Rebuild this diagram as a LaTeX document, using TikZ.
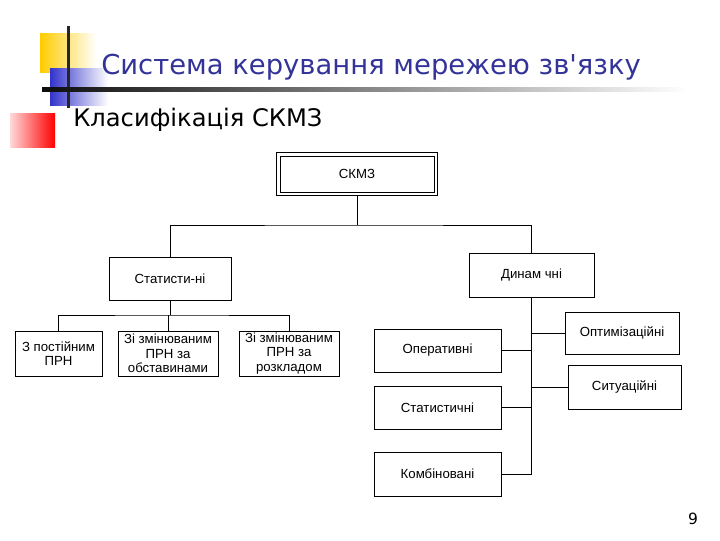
\documentclass[tikz,border=0pt]{standalone}
\usepackage{fontspec}
\setmainfont{DejaVu Sans}
\newfontfamily\slidefont{DejaVu Sans}
\newfontfamily\boxfont{Liberation Sans}
\usetikzlibrary{positioning}
\definecolor{titleBlue}{HTML}{333399}
\definecolor{decoYellow}{HTML}{FFCC00}
\definecolor{decoBlue}{HTML}{3333CC}
\definecolor{decoRed}{HTML}{FF0000}

\begin{document}
\begin{tikzpicture}[
    x=0.025cm, y=-0.025cm,
    box/.style={draw, rectangle, line width=0.6pt, align=center, inner sep=1pt,
                font=\boxfont\fontsize{9.4}{10.2}\selectfont},
    link/.style={line width=0.6pt}
]
    \useasboundingbox (0,0) rectangle (720,540);

    % decoration of the slide
    \shade[left color=decoYellow, right color=white] (40,33) rectangle (96,72);
    \shade[left color=decoBlue, right color=white] (50,68) rectangle (108,105);
    \shade[left color=decoRed!15, right color=decoRed] (10,113) rectangle (55,147);
    \fill[black!85] (67,26) rectangle (69.5,108);
    \shade[left color=black!95, right color=white] (42,87.5) rectangle (688,91.5);

    \node[anchor=base west, inner sep=0pt, text=titleBlue, font=\slidefont\fontsize{19.5}{22}\selectfont] (title) at (101,74) {Система керування мережею зв'язку};
    \node[anchor=base west, inner sep=0pt, font=\slidefont\fontsize{17.2}{20}\selectfont] (subtitle) at (73,126) {Класифікація СКМЗ};

    % tree
    \node[box, minimum width=3.85cm, minimum height=0.9cm] (skmz) at (357,174) {СКМЗ};
    \draw[line width=0.6pt] ([shift={(-2.3pt,2.3pt)}]skmz.north west) rectangle ([shift={(2.3pt,-2.3pt)}]skmz.south east);
    \node[box, minimum width=3.05cm, minimum height=1.075cm] (stat) at (170,278.5) {Статисти-ні};
    \node[box, minimum width=3.125cm, minimum height=1.1cm] (dyn) at (531.5,275) {Динам чні};

    \node[box, minimum width=2.175cm, minimum height=1.125cm] (const) at (58.5,353.5) {З постійним\\ПРН};
    \node[box, minimum width=2.5cm, minimum height=1.125cm] (circ) at (168,353.5) {Зі змінюваним\\ПРН за\\обставинами};
    \node[box, minimum width=2.5cm, minimum height=1.125cm] (sched) at (289,353.5) {Зі змінюваним\\ПРН за\\розкладом};

    \node[box, minimum width=3.175cm, minimum height=1.075cm] (oper) at (437.5,350.5) {Оперативні};
    \node[box, minimum width=3.175cm, minimum height=1.075cm] (statc) at (437.5,407.5) {Статистичні};
    \node[box, minimum width=3.175cm, minimum height=1.1cm] (comb) at (437.5,474) {Комбіновані};
    \node[box, minimum width=2.85cm, minimum height=1.05cm] (optim) at (622,333) {Оптимізаційні};
    \node[box, minimum width=2.825cm, minimum height=1.1cm] (situ) at (624.5,387) {Ситуаційні};

    \coordinate (busTop) at (357,225);
    \coordinate (busLeft) at (170,315);

    \draw[link] ([yshift=-2.3pt]skmz.south) -- (busTop);
    \draw[link] (stat.north) |- (busTop) -| (dyn.north);
    \draw[link] (stat.south) -- (busLeft);
    \draw[link] (const.north) |- (busLeft) -| (sched.north);
    \draw[link] (circ.north) -- (circ.north |- busLeft);

    \draw[link] (dyn.south) -- (dyn.south |- comb.east) -- (comb.east);
    \draw[link] (oper.east) -- (oper.east -| dyn.south);
    \draw[link] (statc.east) -- (statc.east -| dyn.south);
    \draw[link] (optim.west) -- (optim.west -| dyn.south);
    \draw[link] (situ.west) -- (situ.west -| dyn.south);

    \node[anchor=base, font=\slidefont\fontsize{11}{13}\selectfont] (page) at (693,524) {9};
\end{tikzpicture}
\end{document}
